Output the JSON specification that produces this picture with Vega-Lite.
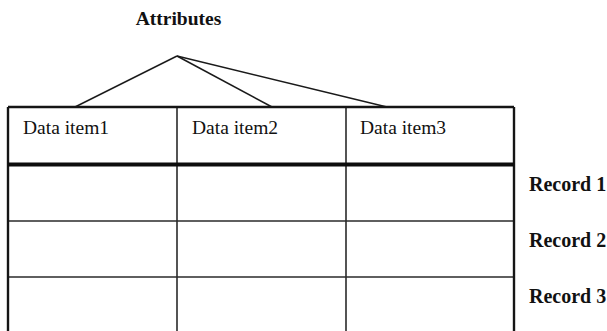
{
  "$schema": "https://vega.github.io/schema/vega-lite/v6.json",
  "width": 607,
  "height": 331,
  "padding": 0,
  "autosize": {"type": "none"},
  "background": "white",
  "config": {"view": {"stroke": null}},
  "datasets": {
    "border": [
      {"x": 8, "y": 107, "x2": 514, "y2": 107},
      {"x": 8, "y": 107, "x2": 8, "y2": 331},
      {"x": 514, "y": 107, "x2": 514, "y2": 331}
    ],
    "header": [
      {"x": 8, "y": 164.5, "x2": 514, "y2": 164.5}
    ],
    "grid": [
      {"x": 8, "y": 221, "x2": 514, "y2": 221},
      {"x": 8, "y": 277, "x2": 514, "y2": 277},
      {"x": 177, "y": 107, "x2": 177, "y2": 331},
      {"x": 346, "y": 107, "x2": 346, "y2": 331}
    ],
    "fan": [
      {"x": 177, "y": 56, "x2": 75, "y2": 107},
      {"x": 177, "y": 56, "x2": 272, "y2": 107},
      {"x": 177, "y": 56, "x2": 387, "y2": 107}
    ],
    "title": [
      {"x": 178.5, "y": 25, "label": "Attributes"}
    ],
    "items": [
      {"x": 23, "y": 134, "label": "Data item1"},
      {"x": 192, "y": 134, "label": "Data item2"},
      {"x": 360, "y": 134, "label": "Data item3"}
    ],
    "records": [
      {"x": 529, "y": 190.5, "label": "Record 1"},
      {"x": 529, "y": 246.5, "label": "Record 2"},
      {"x": 529, "y": 302.5, "label": "Record 3"}
    ]
  },
  "resolve": {"scale": {"x": "shared", "y": "shared"}},
  "layer": [
    {
      "data": {"name": "grid"},
      "mark": {"type": "rule", "color": "#2a2a2a", "strokeWidth": 1.6},
      "encoding": {
        "x": {"field": "x", "type": "quantitative", "scale": {"domain": [0, 607], "nice": false, "zero": false}, "axis": null},
        "y": {"field": "y", "type": "quantitative", "scale": {"domain": [0, 331], "nice": false, "zero": false, "reverse": true}, "axis": null},
        "x2": {"field": "x2"},
        "y2": {"field": "y2"}
      }
    },
    {
      "data": {"name": "fan"},
      "mark": {"type": "rule", "color": "#1a1a1a", "strokeWidth": 1.5},
      "encoding": {
        "x": {"field": "x", "type": "quantitative", "axis": null},
        "y": {"field": "y", "type": "quantitative", "axis": null},
        "x2": {"field": "x2"},
        "y2": {"field": "y2"}
      }
    },
    {
      "data": {"name": "border"},
      "mark": {"type": "rule", "color": "#151515", "strokeWidth": 2.4},
      "encoding": {
        "x": {"field": "x", "type": "quantitative", "axis": null},
        "y": {"field": "y", "type": "quantitative", "axis": null},
        "x2": {"field": "x2"},
        "y2": {"field": "y2"}
      }
    },
    {
      "data": {"name": "header"},
      "mark": {"type": "rule", "color": "#0d0d0d", "strokeWidth": 4},
      "encoding": {
        "x": {"field": "x", "type": "quantitative", "axis": null},
        "y": {"field": "y", "type": "quantitative", "axis": null},
        "x2": {"field": "x2"},
        "y2": {"field": "y2"}
      }
    },
    {
      "data": {"name": "title"},
      "mark": {"type": "text", "font": "Liberation Serif", "fontSize": 19.5, "fontWeight": "bold", "align": "center", "baseline": "alphabetic", "color": "#111"},
      "encoding": {
        "x": {"field": "x", "type": "quantitative", "axis": null},
        "y": {"field": "y", "type": "quantitative", "axis": null},
        "text": {"field": "label"}
      }
    },
    {
      "data": {"name": "items"},
      "mark": {"type": "text", "font": "Liberation Serif", "fontSize": 19.5, "align": "left", "baseline": "alphabetic", "color": "#111"},
      "encoding": {
        "x": {"field": "x", "type": "quantitative", "axis": null},
        "y": {"field": "y", "type": "quantitative", "axis": null},
        "text": {"field": "label"}
      }
    },
    {
      "data": {"name": "records"},
      "mark": {"type": "text", "font": "Liberation Serif", "fontSize": 20, "fontWeight": "bold", "align": "left", "baseline": "alphabetic", "color": "#111"},
      "encoding": {
        "x": {"field": "x", "type": "quantitative", "axis": null},
        "y": {"field": "y", "type": "quantitative", "axis": null},
        "text": {"field": "label"}
      }
    }
  ]
}
